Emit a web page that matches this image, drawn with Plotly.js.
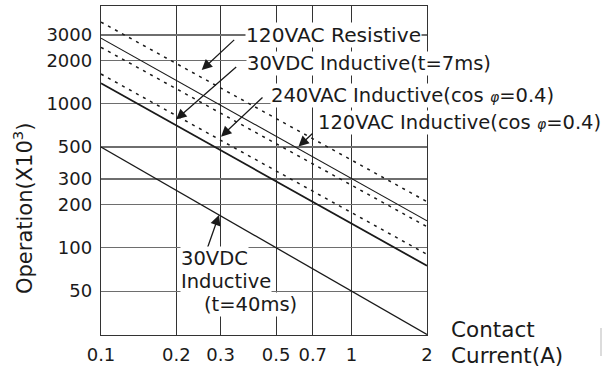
<!DOCTYPE html>
<html>
<head>
<meta charset="utf-8">
<script src="https://cdn.plot.ly/plotly-3.0.1.min.js"></script>
<style>html,body{margin:0;padding:0;background:#fff;}</style>
</head>
<body>
<div id="chart" style="width:604px;height:370px;"></div>
<script>
// Contact current (A) at the two ends of every life curve
const currentA = [0.1, 2];
// Operations (x10^3)
const resistive120VAC = [3690, 209];
const inductive120VAC = [2850, 154];
const unlabeledDashed = [2464, 140];
const inductive240VAC = [1608, 90];
const dcInductive7ms = [1386, 75];
const dcInductive40ms = [500, 25];

const xTicks = [0.1, 0.2, 0.3, 0.5, 0.7, 1, 2];
const xTickText = ['0.1', '0.2', '0.3', '0.5', '0.7', '1', '2'];
const yTicks = [50, 100, 200, 300, 500, 1000, 2000, 3000];
const yTickText = ['50', '100', '200', '300', '500', '1000', '2000', '3000'];

const FONT = 'DejaVu Sans, Liberation Sans, Arial, sans-serif';
const INK = '#1a1a1a';

function line(y, opts) {
  return Object.assign({
    x: currentA, y: y, type: 'scatter', mode: 'lines', hoverinfo: 'skip',
    showlegend: false
  }, opts);
}

const traces = [
  line(resistive120VAC, {name: '120VAC Resistive', line: {color: INK, width: 1.5, dash: '3px,5px'}}),
  line(inductive120VAC, {name: '120VAC Inductive', line: {color: INK, width: 1.1}}),
  line(unlabeledDashed, {name: 'dashed', line: {color: INK, width: 1.5, dash: '3px,5px'}}),
  line(inductive240VAC, {name: '240VAC Inductive', line: {color: INK, width: 1.5, dash: '3px,5px'}}),
  line(dcInductive7ms, {name: '30VDC Inductive t=7ms', line: {color: INK, width: 1.8}}),
  line(dcInductive40ms, {name: '30VDC Inductive t=40ms', line: {color: INK, width: 1.3}})
];

// plot box in pixels: left 101, right 427, top 6, bottom 335
const L = 101, R = 427, T = 6, B = 335;
const px = v => (v - L) / (R - L);
const py = v => (B - v) / (B - T);

function label(text, x, y, size, bg) {
  return {
    xref: 'paper', yref: 'paper', x: px(x), y: py(y), text: text,
    xanchor: 'left', yanchor: 'middle', showarrow: false,
    bgcolor: bg ? '#ffffff' : 'rgba(0,0,0,0)', borderpad: 0,
    font: {family: FONT, size: size, color: INK}
  };
}
function arrow(tipX, tipY, tailX, tailY) {
  return {
    xref: 'paper', yref: 'paper', x: px(tipX), y: py(tipY),
    ax: tailX - tipX, ay: tailY - tipY, text: '',
    font: {size: 1}, showarrow: true, arrowhead: 2, arrowsize: 1.6,
    arrowwidth: 1.3, arrowcolor: INK, standoff: 0, startstandoff: 0
  };
}

const phi = '<i><span style="font-size:14px">φ</span></i>';
const annotations = [
  arrow(201.7, 70, 235.7, 38.5),
  arrow(176, 119.5, 237.7, 65.7),
  arrow(221, 136.7, 264, 96),
  arrow(298.5, 146.5, 314, 132),
  arrow(219, 215, 206.7, 250),
  label('120VAC Resistive', 245, 34.5, 20.2, true),
  label('30VDC Inductive(t=7ms)', 245.5, 63, 19.5, true),
  label('240VAC Inductive(cos ' + phi + '=0.4)', 270, 95, 19.5, true),
  label('120VAC Inductive(cos ' + phi + '=0.4)', 316.5, 122.5, 19.5, true),
  label('30VDC', 180, 258.5, 19.5, true),
  label('Inductive', 180, 281.5, 19.5, true),
  label('(t=40ms)', 202.5, 304.5, 19.5, true),
  label('Contact', 450, 329, 21.5, false),
  label('Current(A)', 450, 355.5, 21.5, false),
  {
    xref: 'paper', yref: 'paper', x: px(23), y: py(209),
    text: 'Operation(X10<sup>3</sup>)', textangle: -90, showarrow: false,
    xanchor: 'center', yanchor: 'middle',
    font: {family: FONT, size: 21, color: INK}
  }
];

const layout = {
  width: 604, height: 370,
  margin: {l: L, r: 604 - R, t: T, b: 370 - B, pad: 0},
  paper_bgcolor: '#ffffff', plot_bgcolor: '#ffffff',
  font: {family: FONT, color: INK},
  showlegend: false,
  xaxis: {
    type: 'log', range: [Math.log10(0.1), Math.log10(2)],
    tickmode: 'array', tickvals: xTicks, ticktext: xTickText,
    tickfont: {family: FONT, size: 18, color: INK},
    ticks: '', ticklabelstandoff: 3,
    showgrid: true, gridcolor: '#333333', gridwidth: 1,
    showline: true, linecolor: '#333333', linewidth: 1.2, mirror: true,
    zeroline: false, fixedrange: true
  },
  yaxis: {
    type: 'log', range: [Math.log10(24.8), 3.6785],
    tickmode: 'array', tickvals: yTicks, ticktext: yTickText,
    tickfont: {family: FONT, size: 18, color: INK},
    ticks: '', ticklabelstandoff: 4,
    showgrid: true, gridcolor: '#6e6e6e', gridwidth: 1.2,
    showline: true, linecolor: '#333333', linewidth: 1.2, mirror: true,
    zeroline: false, fixedrange: true
  },
  shapes: [
    {type: 'line', xref: 'paper', yref: 'paper', x0: px(601), x1: px(601), y0: py(328), y1: py(356),
     line: {color: '#dcdcdc', width: 2}}
  ],
  annotations: annotations
};

Plotly.newPlot('chart', traces, layout, {displayModeBar: false, staticPlot: true});
</script>
</body>
</html>
